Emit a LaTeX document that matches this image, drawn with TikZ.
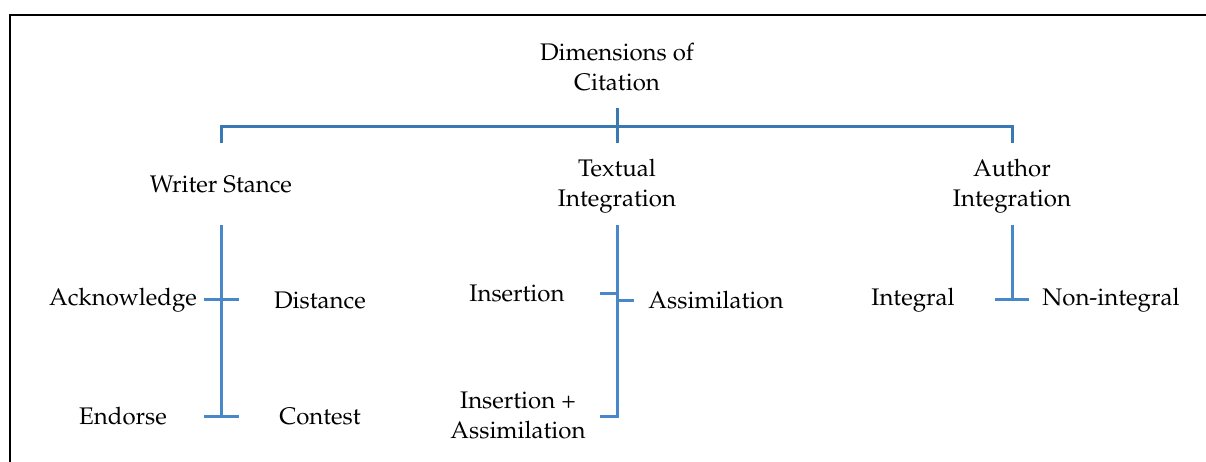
\documentclass[tikz,border=0pt]{standalone}
\usepackage[T1]{fontenc}
\usepackage{mathpazo}
\usepackage{tikz}
\usetikzlibrary{positioning}

\definecolor{treeblue}{RGB}{58,120,178}
\definecolor{barblue}{RGB}{72,136,200}

\begin{document}
\begin{tikzpicture}[x=0.5pt, y=-0.5pt,
    lbl/.style={font=\fontsize{12}{15}\selectfont, align=center, inner sep=0pt},
    tree/.style={draw=treeblue, line width=1.5pt},
    bar/.style={draw=barblue, line width=1.5pt}]
    \useasboundingbox (0,0) rectangle (1206,461);
    % Frame (open to the right and below)
    \draw[line width=1.2pt] (10,470) -- (10,15) -- (1215,15);

    % Root and first level
    \node[lbl] (root) at (617,67) {Dimensions of\\Citation};
    \node[lbl] (stance) at (221,184) {Writer Stance};
    \node[lbl] (textual) at (617,186) {Textual\\Integration};
    \node[lbl] (author) at (1012,186) {Author\\Integration};

    % Top bracket
    \coordinate (rootstem) at (617,108);
    \coordinate (rootfoot) at (617,143);
    \coordinate (stancetop) at (221,143);
    \coordinate (authortop) at (1012,143);
    \draw[tree] (rootstem) -- (rootfoot);
    \draw[tree] (stancetop) |- (617,126) -| (authortop);

    % Writer Stance
    \node[lbl] (ack) at (123,300) {Acknowledge};
    \node[lbl] (dist) at (320,300) {Distance};
    \node[lbl] (endorse) at (123,416) {Endorse};
    \node[lbl] (contest) at (320,416) {Contest};
    \coordinate (stancebar) at (221,225);
    \coordinate (stanceend) at (221,416);
    \draw[bar] (stancebar) -- (stanceend);
    \draw[bar] (204,299) -- (239,299);
    \draw[bar] (204,416) -- (239,416);

    % Textual Integration
    \node[lbl] (insert) at (517,293) {Insertion};
    \node[lbl] (assim) at (716,300) {Assimilation};
    \node[lbl] (both) at (518,415) {Insertion +\\Assimilation};
    \coordinate (textualbar) at (617,225);
    \coordinate (textualend) at (600,416);
    \draw[bar] (textualbar) |- (textualend);
    \draw[bar] (600,293) -- (617,293);
    \draw[bar] (617,300) -- (634,300);

    % Author Integration
    \node[lbl] (integral) at (913,300) {Integral};
    \node[lbl] (nonint) at (1111,300) {Non-integral};
    \coordinate (authorbar) at (1012,225);
    \coordinate (authorend) at (1012,299);
    \draw[bar] (authorbar) -- (authorend);
    \draw[bar] (995,299) -- (1029,299);
\end{tikzpicture}
\end{document}
